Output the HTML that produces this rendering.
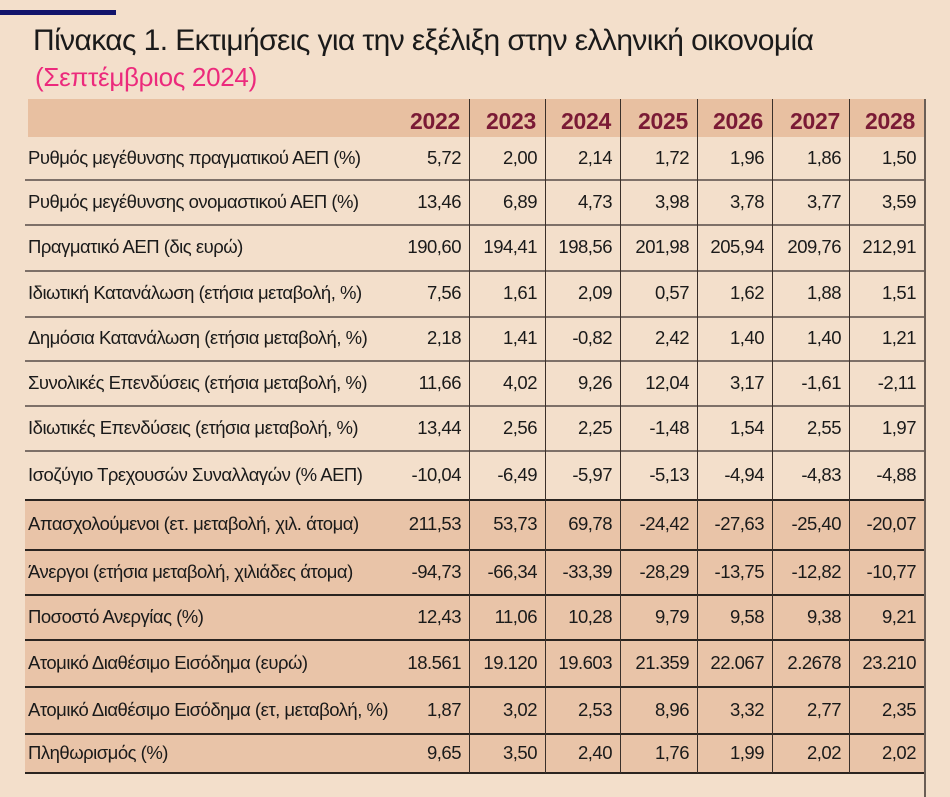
<!DOCTYPE html>
<html><head><meta charset="utf-8"><style>
body{margin:0;width:950px;height:797px;background:#f3dfcb;position:relative;overflow:hidden;font-family:"Liberation Sans","DejaVu Sans",sans-serif;color:#1a1a1a}
.a{position:absolute}
.t{font-size:18.5px;letter-spacing:-0.5px;white-space:nowrap}
.n{text-align:right;font-size:18.5px;letter-spacing:-0.5px}
.y{font-size:23px;color:#7a1a35;text-align:right;font-weight:bold;letter-spacing:-0.3px}
</style></head><body>
<div class="a" style="left:0;top:10px;width:116px;height:5px;background:#12146b"></div>
<div class="a" style="left:33px;top:24px;font-size:30px;letter-spacing:-0.6px;white-space:nowrap">Πίνακας 1. Εκτιμήσεις για την εξέλιξη στην ελληνική οικονομία</div>
<div class="a" style="left:35px;top:62px;font-size:26px;color:#ec2a7c;letter-spacing:-0.3px">(Σεπτέμβριος 2024)</div>
<div class="a" style="left:28px;top:99px;width:897px;height:38px;background:#e8c0a1"></div>
<div class="a" style="left:25px;top:500px;width:900px;height:273px;background:#e9c4a8"></div>
<div id="g"></div>
<script>
const cols=[470,546,621,698,773,850,925];
const years=[2022,2023,2024,2025,2026,2027,2028];
const rows=[
["Ρυθμός μεγέθυνσης πραγματικού ΑΕΠ  (%)","5,72","2,00","2,14","1,72","1,96","1,86","1,50"],
["Ρυθμός μεγέθυνσης ονομαστικού ΑΕΠ  (%)","13,46","6,89","4,73","3,98","3,78","3,77","3,59"],
["Πραγματικό ΑΕΠ (δις ευρώ)","190,60","194,41","198,56","201,98","205,94","209,76","212,91"],
["Ιδιωτική Κατανάλωση (ετήσια μεταβολή, %)","7,56","1,61","2,09","0,57","1,62","1,88","1,51"],
["Δημόσια Κατανάλωση (ετήσια μεταβολή, %)","2,18","1,41","-0,82","2,42","1,40","1,40","1,21"],
["Συνολικές Επενδύσεις (ετήσια μεταβολή, %)","11,66","4,02","9,26","12,04","3,17","-1,61","-2,11"],
["Ιδιωτικές Επενδύσεις (ετήσια μεταβολή, %)","13,44","2,56","2,25","-1,48","1,54","2,55","1,97"],
["Ισοζύγιο Τρεχουσών Συναλλαγών (% ΑΕΠ)","-10,04","-6,49","-5,97","-5,13","-4,94","-4,83","-4,88"],
["Απασχολούμενοι (ετ. μεταβολή, χιλ. άτομα)","211,53","53,73","69,78","-24,42","-27,63","-25,40","-20,07"],
["Άνεργοι (ετήσια μεταβολή, χιλιάδες άτομα)","-94,73","-66,34","-33,39","-28,29","-13,75","-12,82","-10,77"],
["Ποσοστό Ανεργίας (%)","12,43","11,06","10,28","9,79","9,58","9,38","9,21"],
["Ατομικό Διαθέσιμο Εισόδημα (ευρώ)","18.561","19.120","19.603","21.359","22.067","2.2678","23.210"],
["Ατομικό Διαθέσιμο Εισόδημα (ετ, μεταβολή, %)","1,87","3,02","2,53","8,96","3,32","2,77","2,35"],
["Πληθωρισμός (%)","9,65","3,50","2,40","1,76","1,99","2,02","2,02"]];
const lines=[137,180,225,271,317,361,406,451,500,550,595,640,687,734,773];
let h="";
const L=[395].concat(cols);
years.forEach((y,i)=>{h+=`<div class="a y" style="left:${L[i]}px;width:${L[i+1]-L[i]-10}px;top:108px">${y}</div>`});
rows.forEach((r,i)=>{const top=lines[i],bot=lines[i+1],c=(top+bot)/2-12;
h+=`<div class="a t" style="left:28px;top:${c}px">${r[0]}</div>`;
for(let j=1;j<8;j++){const x0=(j==1?395:cols[j-2]),x1=cols[j-1];
h+=`<div class="a n" style="left:${x0}px;width:${x1-x0-9}px;top:${c}px">${r[j]}</div>`;}
h+=`<div class="a" style="left:25px;top:${bot-1}px;width:900px;height:${i==7?2:1.5}px;background:${i==7||i==13||i>=8?'#2a2420':'#7d7068'}"></div>`;
});
cols.slice(0,6).forEach(x=>{h+=`<div class="a" style="left:${x-1}px;top:99px;width:1.3px;height:674px;background:#3a302a"></div>`});
h+=`<div class="a" style="left:924px;top:99px;width:1.5px;height:698px;background:#6a5e56"></div>`;
document.getElementById("g").innerHTML=h;
</script>
</body></html>
